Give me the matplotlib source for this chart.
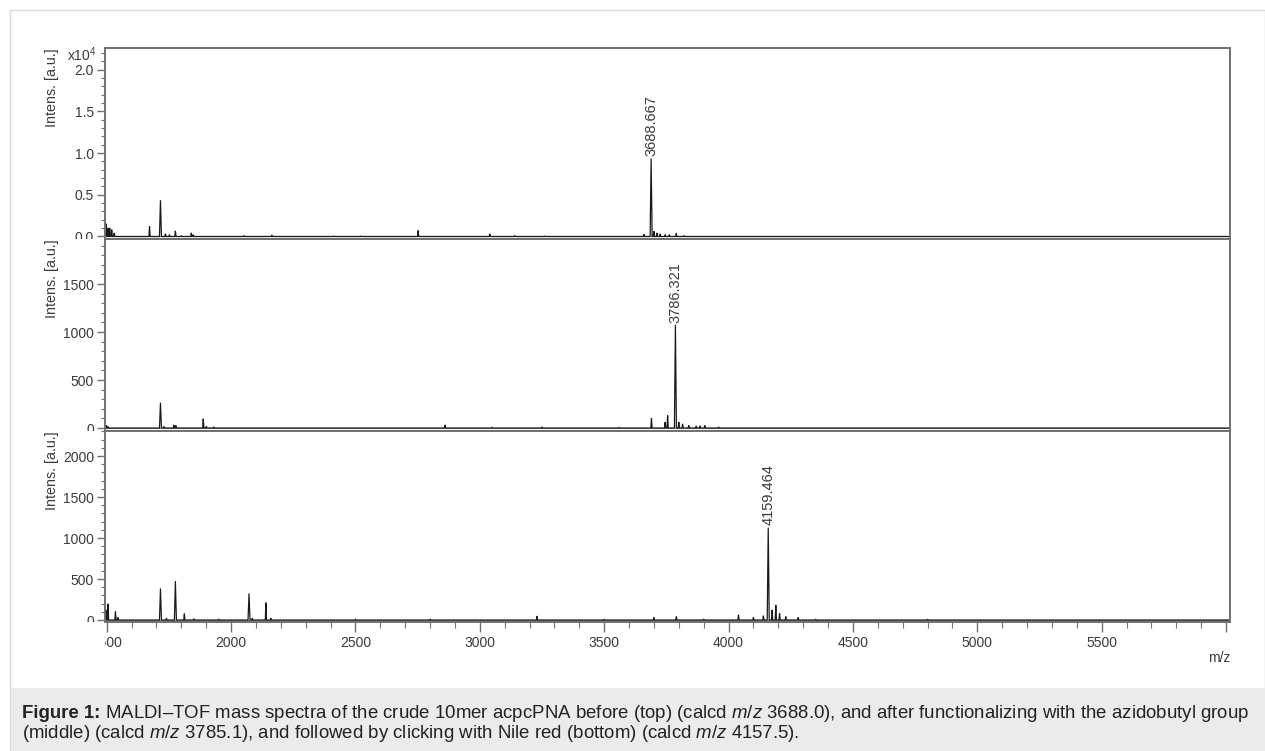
import matplotlib
matplotlib.use("Agg")
import matplotlib.pyplot as plt
from matplotlib.patches import Rectangle
from matplotlib.transforms import Bbox, TransformedBbox
from matplotlib.ticker import MultipleLocator, FixedLocator

plt.rcParams['font.family'] = ['Liberation Sans', 'DejaVu Sans']
plt.rcParams['mathtext.fontset'] = 'custom'
plt.rcParams['mathtext.rm'] = 'Liberation Sans'
plt.rcParams['mathtext.it'] = 'Liberation Sans:italic'
plt.rcParams['mathtext.bf'] = 'Liberation Sans:bold'

# ---------------- data ----------------
mz_limits = (1493, 6016)
x_ticks = [1500, 2000, 2500, 3000, 3500, 4000, 4500, 5000, 5500, 6000]
x_ticklabels = ['1500', '2000', '2500', '3000', '3500', '4000', '4500', '5000', '5500', '']

# top spectrum (intensity in units of 1e4)
top_mz = [1498, 1505, 1512, 1520, 1530, 1672, 1716, 1736, 1752, 1776, 1800, 1840, 1848,
          2052, 2164, 2412, 2520, 2752, 3040, 3140, 3260, 3660, 3688.667, 3700, 3712, 3725,
          3745, 3762, 3790, 3820]
top_int = [0.15, 0.10, 0.10, 0.08, 0.04, 0.12, 0.43, 0.03, 0.02, 0.065, 0.01, 0.04, 0.02,
           0.01, 0.015, 0.006, 0.005, 0.07, 0.03, 0.01, 0.005, 0.025, 0.93, 0.06, 0.04, 0.03,
           0.02, 0.02, 0.035, 0.01]
top_peak_label = '3688.667'
top_peak_mz = 3688.667
top_yticks = [0.0, 0.5, 1.0, 1.5, 2.0]
top_yticklabels = ['0.0', '0.5', '1.0', '1.5', '2.0']
top_ylim = (-0.03, 2.26)

# middle spectrum (counts)
mid_mz = [1498, 1505, 1716, 1730, 1770, 1778, 1888, 1900, 1930, 2860, 3050, 3250, 3560,
          3690, 3745, 3755, 3786.321, 3800, 3815, 3840, 3870, 3885, 3905, 3960]
mid_int = [25, 15, 260, 15, 30, 25, 95, 15, 10, 30, 8, 10, 6,
           100, 60, 130, 1070, 60, 40, 25, 20, 20, 25, 10]
mid_peak_label = '3786.321'
mid_peak_mz = 3786.321
mid_yticks = [0, 500, 1000, 1500]
mid_ylim = (-31, 1969)

# bottom spectrum (counts)
bot_mz = [1497, 1505, 1535, 1545, 1716, 1740, 1776, 1812, 1850, 1950, 2072, 2085, 2140,
          2160, 2500, 2800, 3230, 3500, 3700, 3790, 3900, 4040, 4100, 4140, 4159.464, 4175,
          4190, 4205, 4230, 4280, 4350, 4800]
bot_int = [120, 195, 100, 30, 380, 20, 470, 75, 15, 10, 320, 20, 210,
           20, 10, 8, 45, 8, 30, 40, 10, 60, 30, 50, 1120, 120,
           180, 80, 40, 30, 10, 8]
bot_peak_label = '4159.464'
bot_peak_mz = 4159.464
bot_yticks = [0, 500, 1000, 1500, 2000]
bot_ylim = (-24, 2305)

caption_bold = "Figure 1:"
caption_line1 = (r" MALDI–TOF mass spectra of the crude 10mer acpcPNA before (top) "
                 r"(calcd $\mathit{m/z}$ 3688.0), and after functionalizing with the azidobutyl group")
caption_line2 = (r"(middle) (calcd $\mathit{m/z}$ 3785.1), and followed by clicking with Nile red "
                 r"(bottom) (calcd $\mathit{m/z}$ 4157.5).")

# ---------------- figure ----------------
W, H = 1265, 751
fig = plt.figure(figsize=(W / 100, H / 100), dpi=100)
fig.patch.set_facecolor('white')

# outer frame and caption band
fig.add_artist(Rectangle((10 / W, 0), (W - 10) / W, (H - 10) / H, transform=fig.transFigure,
                         facecolor='white', edgecolor='#d9d9d9', linewidth=1.0, zorder=-5))
fig.add_artist(Rectangle((11 / W, 0), (W - 11) / W, (H - 688) / H, transform=fig.transFigure,
                         facecolor='#ebebeb', edgecolor='none', zorder=-4))

TEXT = '#3a3a3a'
SPINE = '#707070'
LINE = '#1a1a1a'
TICKFS = 10.0


def px_rect(top, bottom):
    return [105 / W, 1 - bottom / H, (1230 - 105) / W, (bottom - top) / H]


def build_trace(mz, inten, lo, hi):
    xs, ys = [lo], [0.0]
    for m, h in zip(mz, inten):
        w = 4.0 if h > 0.2 * max(inten) else 2.5
        xs += [m - w, m, m + w]
        ys += [0.0, h, 0.0]
    xs.append(hi)
    ys.append(0.0)
    return xs, ys


panels = [
    (48, 239, top_mz, top_int, top_ylim, top_yticks, top_yticklabels, 0.1, top_peak_mz, top_peak_label),
    (239, 431, mid_mz, mid_int, mid_ylim, mid_yticks, [str(v) for v in mid_yticks], 100, mid_peak_mz, mid_peak_label),
    (431, 622, bot_mz, bot_int, bot_ylim, bot_yticks, [str(v) for v in bot_yticks], 100, bot_peak_mz, bot_peak_label),
]

axes = []
for i, (ptop, pbot, mz, inten, ylim, yt, ytl, minor, pk_mz, pk_lab) in enumerate(panels):
    ax = fig.add_axes(px_rect(ptop, pbot))
    axes.append(ax)
    xs, ys = build_trace(mz, inten, mz_limits[0], mz_limits[1])
    ax.plot(xs, ys, color=LINE, linewidth=0.9)
    ax.axhline(0, color='#8a8a8a', linewidth=0.8, zorder=1)
    ax.set_xlim(*mz_limits)
    ax.set_ylim(*ylim)
    ax.yaxis.set_major_locator(FixedLocator(yt))
    ax.set_yticklabels(ytl)
    ax.yaxis.set_minor_locator(MultipleLocator(minor))
    for s in ax.spines.values():
        s.set_color(SPINE)
        s.set_linewidth(1.4)
    ax.tick_params(axis='y', which='major', direction='out', length=6, width=1.0,
                   color=SPINE, labelcolor=TEXT, labelsize=TICKFS, pad=2)
    ax.tick_params(axis='y', which='minor', direction='out', length=3, width=0.8, color=SPINE)
    ax.set_ylabel('Intens. [a.u.]', loc='top', fontsize=10.3, color=TEXT)
    ax.yaxis.set_label_coords(-0.041, 1.0)

    pk_h = inten[mz.index(pk_mz)]
    ax.annotate(pk_lab, xy=(pk_mz, pk_h), xytext=(0, 2), textcoords='offset points',
                rotation=90, ha='center', va='bottom', fontsize=10.5, color=TEXT)

    clip = TransformedBbox(Bbox([[0, 1 - pbot / H], [1, 1 - (ptop - 12) / H]]), fig.transFigure)
    for t in ax.yaxis.get_major_ticks():
        t.label1.set_clip_box(clip)
        t.label1.set_clip_on(True)

    if i < 2:
        ax.tick_params(axis='x', which='both', bottom=False, labelbottom=False)
    else:
        ax.xaxis.set_major_locator(FixedLocator(x_ticks))
        ax.set_xticklabels(x_ticklabels)
        ax.xaxis.set_minor_locator(MultipleLocator(100))
        ax.tick_params(axis='x', which='major', direction='out', length=7, width=1.0,
                       color=SPINE, labelcolor=TEXT, labelsize=TICKFS, pad=3)
        ax.tick_params(axis='x', which='minor', direction='out', length=4, width=0.8, color=SPINE)
        xclip = TransformedBbox(Bbox([[105 / W, 0], [1, 1]]), fig.transFigure)
        for t in ax.xaxis.get_major_ticks():
            t.label1.set_clip_box(xclip)
            t.label1.set_clip_on(True)

fig.text(97 / W, 1 - 55 / H, r'x10$^4$', ha='right', va='center', fontsize=TICKFS, color=TEXT)
fig.text(1230 / W, 1 - 658 / H, 'm/z', ha='right', va='center', fontsize=TICKFS, color=TEXT)

# caption
CAPFS = 13.4
renderer = fig.canvas.get_renderer()
tb = fig.text(22 / W, 1 - 713 / H, caption_bold, ha='left', va='center', fontsize=CAPFS,
              fontweight='bold', color='#222222')
bb = tb.get_window_extent(renderer=renderer)
fig.text(bb.x1 / W, 1 - 713 / H, caption_line1, ha='left', va='center', fontsize=CAPFS, color='#222222')
fig.text(22 / W, 1 - 733 / H, caption_line2, ha='left', va='center', fontsize=CAPFS, color='#222222')

fig.savefig('out.png', dpi=100)
